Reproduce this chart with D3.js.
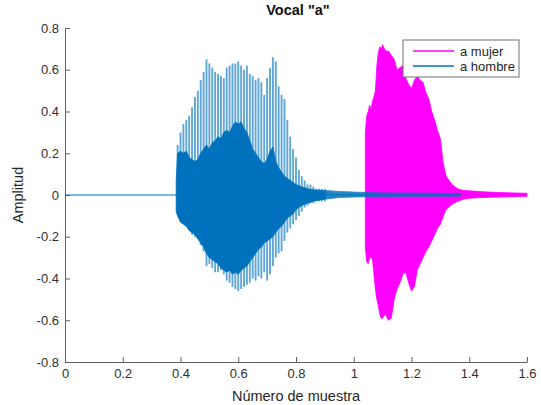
<!DOCTYPE html>
<html>
<head>
<meta charset="utf-8">
<script src="https://cdn.jsdelivr.net/npm/d3@7"></script>
<style>
  body { margin: 0; background: #fff; }
  text { font-family: "Liberation Sans", Arial, Helvetica, sans-serif; }
</style>
</head>
<body>
<div id="chart"></div>
<script>
// x in units of 1e5 samples, amplitudes

// "a hombre" : silence before the vowel
const hombreSilence = [0, 0.385];

// pitch-pulse spikes (outer envelope)
const hombreX = [0.39,0.40,0.41,0.42,0.43,0.44,0.45,0.46,0.47,0.48,0.49,0.50,0.51,0.52,0.53,0.54,0.55,0.56,0.57,0.58,0.59,0.60,0.61,0.62,0.63,0.64,0.65,0.66,0.67,0.68,0.69,0.70,0.71,0.72,0.73,0.74,0.75,0.76,0.77,0.78,0.79,0.80,0.81,0.82,0.83,0.84,0.85,0.86,0.87,0.88,0.89,0.90];
const hombrePeak = [0.24,0.30,0.34,0.36,0.38,0.42,0.47,0.50,0.55,0.59,0.65,0.63,0.61,0.59,0.58,0.57,0.56,0.61,0.62,0.63,0.63,0.64,0.62,0.60,0.62,0.58,0.57,0.55,0.56,0.54,0.48,0.56,0.61,0.66,0.64,0.52,0.48,0.46,0.36,0.28,0.22,0.18,0.12,0.09,0.07,0.05,0.05,0.04,0.03,0.03,0.03,0.03];
const hombreTrough = [-0.09,-0.12,-0.13,-0.15,-0.17,-0.19,-0.20,-0.21,-0.24,-0.27,-0.34,-0.33,-0.35,-0.37,-0.37,-0.36,-0.38,-0.41,-0.42,-0.44,-0.45,-0.46,-0.45,-0.44,-0.43,-0.42,-0.40,-0.41,-0.39,-0.40,-0.37,-0.41,-0.38,-0.34,-0.30,-0.28,-0.27,-0.22,-0.18,-0.16,-0.14,-0.12,-0.10,-0.08,-0.06,-0.05,-0.04,-0.04,-0.03,-0.03,-0.03,-0.03];

// dense body of the waveform
const hombreCoreX  = [0.385,0.39,0.40,0.41,0.42,0.43,0.44,0.45,0.46,0.47,0.48,0.49,0.50,0.51,0.52,0.53,0.54,0.55,0.56,0.57,0.58,0.59,0.60,0.61,0.62,0.63,0.64,0.65,0.66,0.67,0.68,0.69,0.70,0.71,0.72,0.73,0.74,0.75,0.76,0.77,0.78,0.79,0.80,0.82,0.84,0.86,0.90];
const hombreCoreHi = [0.07,0.20,0.21,0.20,0.21,0.18,0.17,0.16,0.17,0.20,0.22,0.24,0.22,0.25,0.26,0.28,0.27,0.30,0.31,0.30,0.33,0.35,0.34,0.35,0.32,0.30,0.26,0.22,0.20,0.18,0.16,0.15,0.17,0.21,0.23,0.16,0.13,0.11,0.09,0.08,0.07,0.06,0.05,0.04,0.03,0.025,0.02];
const hombreCoreLo = [-0.08,-0.10,-0.13,-0.14,-0.15,-0.17,-0.18,-0.19,-0.21,-0.23,-0.25,-0.28,-0.30,-0.31,-0.32,-0.33,-0.35,-0.36,-0.37,-0.36,-0.38,-0.37,-0.38,-0.36,-0.35,-0.34,-0.32,-0.30,-0.28,-0.26,-0.25,-0.23,-0.22,-0.21,-0.20,-0.18,-0.16,-0.15,-0.13,-0.11,-0.10,-0.09,-0.07,-0.05,-0.04,-0.03,-0.02];

// residual noise after the vowel
const hombreTailX  = [0.90,0.95,1.00,1.05,1.10,1.20,1.30,1.37];
const hombreTailHi = [0.022,0.017,0.014,0.012,0.01,0.009,0.008,0.006];
const hombreTailLo = [-0.02,-0.012,-0.01,-0.008,-0.007,-0.006,-0.006,-0.005];

// "a mujer"
const mujerX  = [1.040,1.045,1.050,1.055,1.060,1.065,1.070,1.075,1.080,1.085,1.090,1.095,1.100,1.110,1.120,1.130,1.140,1.150,1.160,1.170,1.180,1.190,1.200,1.210,1.220,1.230,1.240,1.250,1.260,1.270,1.280,1.290,1.300,1.310,1.320,1.340,1.360,1.380,1.400,1.450,1.500,1.550,1.600];
const mujerHi = [0.30,0.38,0.40,0.43,0.41,0.45,0.47,0.50,0.62,0.68,0.71,0.70,0.72,0.69,0.69,0.67,0.65,0.60,0.61,0.62,0.56,0.53,0.51,0.55,0.57,0.55,0.54,0.49,0.46,0.40,0.36,0.31,0.27,0.15,0.09,0.05,0.03,0.022,0.02,0.015,0.012,0.01,0.008];
const mujerLo = [-0.25,-0.32,-0.33,-0.30,-0.30,-0.31,-0.38,-0.45,-0.50,-0.53,-0.57,-0.59,-0.59,-0.57,-0.60,-0.59,-0.50,-0.45,-0.42,-0.38,-0.37,-0.42,-0.46,-0.44,-0.36,-0.33,-0.30,-0.27,-0.25,-0.22,-0.19,-0.16,-0.14,-0.10,-0.07,-0.045,-0.03,-0.02,-0.015,-0.012,-0.01,-0.008,-0.006];

const xTicks = [0,0.2,0.4,0.6,0.8,1,1.2,1.4,1.6];
const yTicks = [-0.8,-0.6,-0.4,-0.2,0,0.2,0.4,0.6,0.8];
const seriesNames = ["a mujer", "a hombre"];
const seriesColors = ["#FF00FF", "#0072BD"];

const width = 541, height = 405;
const svg = d3.select('#chart').append('svg')
  .attr('width', width)
  .attr('height', height);

const x = d3.scaleLinear().domain([0, 1.6]).range([65, 527]);
const y = d3.scaleLinear().domain([-0.8, 0.8]).range([362, 28]);

const zip = (xs, a, b) => xs.map((v, i) => ({x: v, hi: a[i], lo: b[i]}));
const band = d3.area().x(d => x(d.x)).y0(d => y(d.lo)).y1(d => y(d.hi));

// mujer first (blue is plotted on top)
svg.append('path')
  .datum(zip(mujerX, mujerHi, mujerLo))
  .attr('d', band)
  .attr('fill', seriesColors[0])
  .attr('stroke', seriesColors[0])
  .attr('stroke-width', 0.8);

// hombre
svg.append('path')
  .datum(zip(hombreTailX, hombreTailHi, hombreTailLo))
  .attr('d', band)
  .attr('fill', seriesColors[1])
  .attr('stroke', seriesColors[1])
  .attr('stroke-width', 0.8)
  .attr('opacity', 0.85);

svg.selectAll('.spike')
  .data(zip(hombreX, hombrePeak, hombreTrough))
  .enter().append('line')
  .attr('class', 'spike')
  .attr('x1', d => x(d.x)).attr('x2', d => x(d.x))
  .attr('y1', d => y(d.hi)).attr('y2', d => y(d.lo))
  .attr('stroke', seriesColors[1])
  .attr('stroke-width', 1.9)
  .attr('opacity', 0.62);

svg.append('path')
  .datum(zip(hombreCoreX, hombreCoreHi, hombreCoreLo))
  .attr('d', band)
  .attr('fill', seriesColors[1])
  .attr('stroke', seriesColors[1])
  .attr('stroke-width', 0.8);

svg.append('path')
  .datum([hombreSilence[0], hombreTailX[hombreTailX.length - 1]])
  .attr('d', d3.line().x(d => x(d)).y(() => y(0)))
  .attr('stroke', seriesColors[1])
  .attr('stroke-width', 1)
  .attr('fill', 'none');

// axes (MATLAB style: ticks inward, no box)
const fmt = d => String(+d.toFixed(1));
const gx = svg.append('g')
  .attr('transform', `translate(0,${y(-0.8)})`)
  .call(d3.axisBottom(x).tickValues(xTicks).tickFormat(fmt).tickSizeInner(-5).tickSizeOuter(0).tickPadding(7));
const gy = svg.append('g')
  .attr('transform', `translate(${x(0)},0)`)
  .call(d3.axisLeft(y).tickValues(yTicks).tickFormat(fmt).tickSizeInner(-5).tickSizeOuter(0).tickPadding(6));

[gx, gy].forEach(g => {
  g.select('.domain').attr('stroke', '#606060');
  g.selectAll('.tick line').attr('stroke', '#606060');
  g.selectAll('.tick text').attr('fill', '#303030').style('font-size', '13px')
    .style('font-family', '"Liberation Sans", Arial, sans-serif');
});

svg.append('text')
  .attr('x', 298).attr('y', 15)
  .attr('text-anchor', 'middle')
  .style('font-size', '14.5px').style('font-weight', 'bold')
  .attr('fill', '#111')
  .text('Vocal "a"');

svg.append('text')
  .attr('x', 296).attr('y', 401)
  .attr('text-anchor', 'middle')
  .style('font-size', '14.5px')
  .attr('fill', '#262626')
  .text('Número de muestra');

svg.append('text')
  .attr('transform', 'translate(23,195) rotate(-90)')
  .attr('text-anchor', 'middle')
  .style('font-size', '14.5px')
  .attr('fill', '#262626')
  .text('Amplitud');

// legend
const legend = svg.append('g').attr('transform', 'translate(403,40)');
legend.append('rect')
  .attr('width', 116).attr('height', 37)
  .attr('fill', '#fff')
  .attr('stroke', '#707070')
  .attr('stroke-width', 1);
seriesNames.forEach((name, i) => {
  const row = legend.append('g').attr('transform', `translate(0,${11 + i * 15})`);
  row.append('line')
    .attr('x1', 10).attr('x2', 51)
    .attr('y1', 0).attr('y2', 0)
    .style('stroke', seriesColors[i]).style('stroke-width', 1.5);
  row.append('text')
    .attr('x', 57).attr('y', 0).attr('dy', '0.35em')
    .style('font-size', '13px')
    .attr('fill', '#262626')
    .text(name);
});
</script>
</body>
</html>
